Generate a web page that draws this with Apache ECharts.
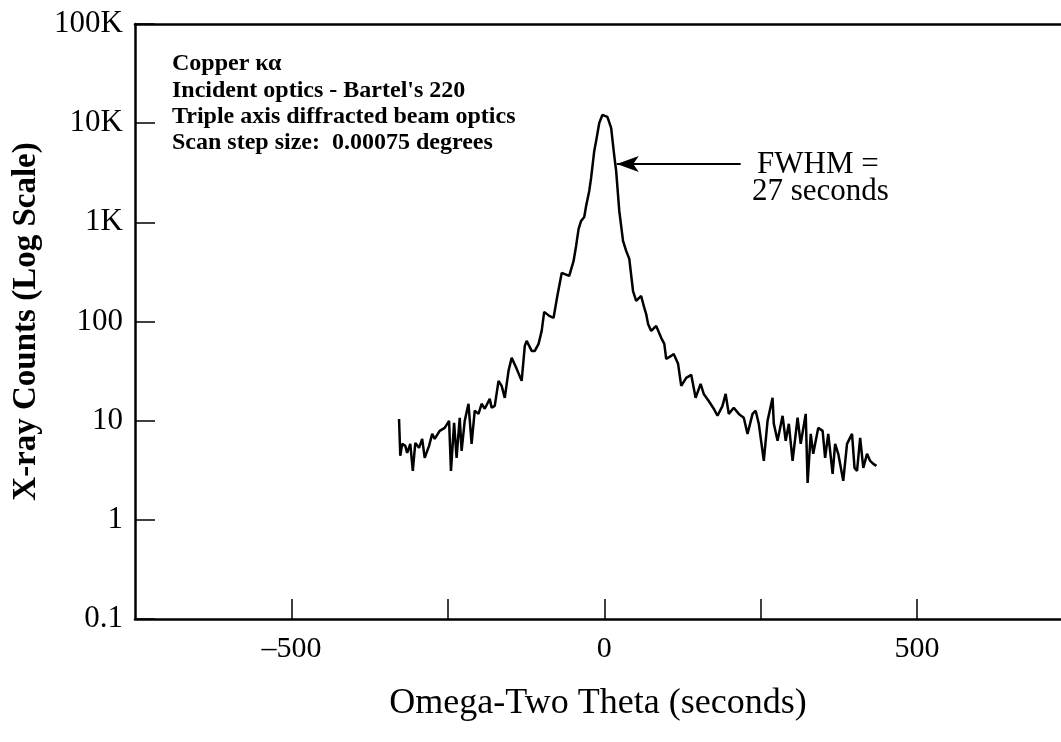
<!DOCTYPE html>
<html>
<head>
<meta charset="utf-8">
<script src="https://cdn.jsdelivr.net/npm/echarts@6/dist/echarts.min.js"></script>
<style>
  html, body { margin: 0; padding: 0; background: #fff; }
  #main { width: 1061px; height: 742px; }
</style>
</head>
<body>
<div id="main"></div>
<script>
// omega-2theta scan, seconds
const scanX = [-328,-326,-323,-318,-315,-310,-306,-302,-296,-291,
  -287,-280,-275,-271,-263,-255,-248,-245,-240,-236,
  -231,-228,-223,-217,-212,-207,-201,-196,-191,-183,
  -180,-175,-169,-164,-159,-153,-148,-140,-132,-127,
  -124,-116,-111,-105,-100,-96,-88,-81,-75,-68,
  -60,-56,-49,-45,-41,-37,-32,-29,-24,-21,
  -16,-13,-8,-3,0,5,11,16,19,24,
  30,35,40,46,51,59,64,67,70,75,
  83,91,96,99,107,111,118,123,131,139,
  146,154,159,167,175,181,189,194,199,207,
  215,223,229,237,242,247,255,261,269,271,
  277,285,290,295,301,309,314,322,325,330,
  334,342,349,353,358,365,369,374,382,388,
  396,400,404,409,414,420,425,430,435];
// x-ray counts
const scanCounts = [10.4,4.42,5.84,5.57,4.73,5.84,3.12,5.97,5.32,6.55,
  4.22,5.57,7.36,6.55,7.89,8.46,9.95,3.12,9.5,4.22,
  10.7,4.96,9.95,14.8,5.84,12.6,11.7,14.8,13.2,16.6,
  13.5,14.1,25.2,22.4,17.0,31.8,43.0,33.3,25.2,56.8,
  63.7,50.5,50.5,59.5,80.4,125,114,109,181,309,
  295,288,408,578,858,1033,1133,1463,2073,2803,
  5245,6620,10040,12100,12380,11550,8950,4670,3300,1303,
  650,515,428,203,161,181,137,119,94.6,80.4,
  90.3,68.4,59.5,42.0,45.0,47.1,37.4,22.4,27.0,29.0,
  17.0,23.5,18.6,15.8,13.2,11.2,14.1,18.6,11.7,13.5,
  11.7,10.7,7.36,11.7,12.6,9.29,3.93,9.95,17.0,9.29,
  6.26,11.2,6.26,9.29,3.93,10.7,5.84,11.7,2.36,7.36,
  4.63,8.46,7.89,4.22,7.36,2.91,5.84,4.63,2.47,5.84,
  7.36,3.34,3.12,6.71,3.34,4.63,3.93,3.67,3.50];

const yTickLabels = ['0.1', '1', '10', '100', '1K', '10K', '100K'];
const xTickLabels = {'-500': '\u2013500', '0': '0', '500': '500'};
const notes = ['Copper \u03ba\u03b1', "Incident optics - Bartel's 220",
  'Triple axis diffracted beam optics', 'Scan step size:  0.00075 degrees'];

const serif = '"Liberation Serif", "DejaVu Serif", serif';

let myChart = echarts.init(document.getElementById('main'));

let points = scanX.map((x, i) => [x, scanCounts[i]]);

let option = {
    animation: false,
    backgroundColor: '#fff',
    grid: {left: 135, top: 24, right: 0, bottom: 123},
    xAxis: [{
        type: 'value',
        min: -750,
        max: 730,
        interval: 250,
        name: 'Omega-Two Theta (seconds)',
        nameLocation: 'middle',
        nameGap: 67,
        nameTextStyle: {fontFamily: serif, fontSize: 36, color: '#000'},
        axisLine: {onZero: false, lineStyle: {color: '#000', width: 2.5}},
        axisTick: {inside: true, length: 20, lineStyle: {color: '#000', width: 1.5}},
        axisLabel: {
            margin: 15,
            fontFamily: serif, fontSize: 30, color: '#000',
            showMinLabel: false, showMaxLabel: false,
            formatter: v => xTickLabels[String(v)] || ''
        },
        splitLine: {show: false}
    }, {
        // top frame line
        type: 'value',
        position: 'top',
        min: -750,
        max: 730,
        axisLine: {lineStyle: {color: '#000', width: 2.5}},
        axisTick: {show: false},
        axisLabel: {show: false},
        splitLine: {show: false}
    }],
    yAxis: {
        type: 'log',
        logBase: 10,
        min: 0.1,
        max: 100000,
        splitNumber: 6,
        name: 'X-ray Counts (Log Scale)',
        nameLocation: 'middle',
        nameGap: 88,
        nameTextStyle: {fontFamily: serif, fontSize: 33, color: '#000', fontWeight: 'bold'},
        axisLine: {show: true, onZero: false, lineStyle: {color: '#000', width: 2.5}},
        axisTick: {show: true, inside: true, length: 20, lineStyle: {color: '#000', width: 1.5}},
        axisLabel: {
            margin: 12,
            fontFamily: serif, fontSize: 31, color: '#000',
            formatter: v => yTickLabels[Math.round(Math.log10(v)) + 1] || ''
        },
        splitLine: {show: false}
    },
    series: [{
        type: 'line',
        data: points,
        symbol: 'none',
        lineStyle: {color: '#000', width: 2.5},
        markLine: {
            silent: true,
            symbol: ['none', 'arrow'],
            symbolSize: [12, 22],
            label: {show: false},
            lineStyle: {color: '#000', width: 2, type: 'solid'},
            data: [[{coord: [218, 3880]}, {coord: [20, 3880]}]]
        }
    }],
    graphic: [
        ...notes.map((t, i) => ({
            type: 'text',
            left: 172,
            top: 52 + i * 26.3,
            style: {text: t, font: 'bold 24px ' + serif, fill: '#000'}
        })),
        {type: 'text', left: 757, top: 149, style: {text: 'FWHM =', font: '31px ' + serif, fill: '#000'}},
        {type: 'text', left: 752, top: 176, style: {text: '27 seconds', font: '31px ' + serif, fill: '#000'}}
    ]
};

myChart.setOption(option);
</script>
</body>
</html>
